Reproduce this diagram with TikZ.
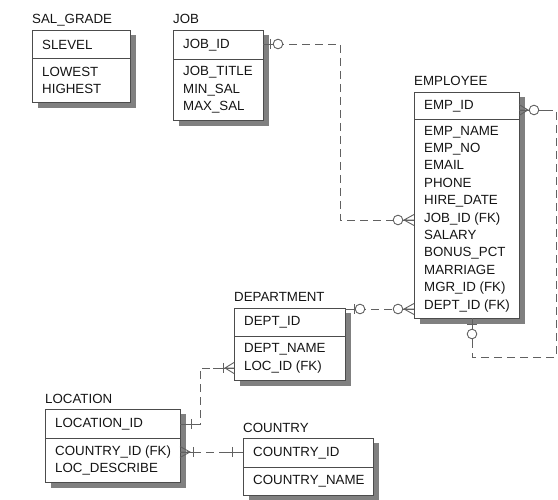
\documentclass[tikz,border=0pt]{standalone}
\usepackage{fontspec}
\setmainfont{Liberation Sans}
\definecolor{boxc}{gray}{0.3}
\definecolor{linec}{gray}{0.38}
\definecolor{txtc}{gray}{0.08}
\definecolor{shadc}{gray}{0.5}
\tikzset{
  tbox/.style={draw=boxc, fill=white, line width=0.9pt, inner sep=0pt, anchor=north west},
  ttext/.style={anchor=west, align=left, inner sep=0pt, font=\fontsize{13.3pt}{17.4pt}\selectfont, text=txtc},
  ttitle/.style={anchor=base west, inner sep=0pt, font=\fontsize{13.3pt}{16pt}\selectfont, text=txtc},
  shad/.style={fill=shadc},
  rel/.style={draw=linec, line width=0.9pt, dash pattern=on 8pt off 5pt},
  sol/.style={draw=linec, line width=0.9pt},
}
% name, title, L, T, R, D, B, head, body
\newcommand\ertab[9]{%
  \pgfmathsetmacro\erW{#5-#3}%
  \pgfmathsetmacro\erH{#6-#4}%
  \pgfmathsetmacro\erB{#7-#6}%
  \fill[shad] ({#3+6},{#4+5}) rectangle ({#5+6},{#7+6});
  \node[ttitle] (#1t) at (#3,{#4-6}) {#2};
  \node[tbox, minimum width=\erW pt, minimum height=\erH pt] (#1h) at (#3,#4) {};
  \node[tbox, minimum width=\erW pt, minimum height=\erB pt] (#1b) at (#3,#6) {};
  \node[ttext] (#1hx) at ({#3+10},{(#4+#6)/2+0.5}) {#8};
  \node[ttext] (#1bx) at ({#3+10},{(#6+#7)/2+0.5}) {#9};
}
% vertical bar on a horizontal line
\newcommand\erbarv[2]{\draw[sol] (#1,{#2-5}) -- (#1,{#2+5});}
% horizontal bar on a vertical line
\newcommand\erbarh[2]{\draw[sol] ({#1-5},#2) -- ({#1+5},#2);}
\newcommand\ercirc[2]{\draw[sol, fill=white] (#1,#2) circle [radius=4.8pt];}
% crow foot: apex x, edge x, y
\newcommand\ercrow[3]{\draw[sol] (#2,{#3-5.5}) -- (#1,#3) -- (#2,{#3+5.5}) (#1,#3) -- (#2,#3);}
\begin{document}
\begin{tikzpicture}[x=1pt, y=-1pt]
\useasboundingbox (0,0) rectangle (558,500);

\ertab{sal}{SAL\_GRADE}{32}{30}{130}{58}{102}{SLEVEL}{LOWEST\\HIGHEST}
\ertab{job}{JOB}{173}{30}{263}{59}{120}{JOB\_ID}{JOB\_TITLE\\MIN\_SAL\\MAX\_SAL}
\ertab{emp}{EMPLOYEE}{414}{92}{519}{119}{318}{EMP\_ID}{EMP\_NAME\\EMP\_NO\\EMAIL\\PHONE\\HIRE\_DATE\\JOB\_ID (FK)\\SALARY\\BONUS\_PCT\\MARRIAGE\\MGR\_ID (FK)\\DEPT\_ID (FK)}
\ertab{dep}{DEPARTMENT}{234}{308}{345}{336}{380}{DEPT\_ID}{DEPT\_NAME\\LOC\_ID (FK)}
\ertab{loc}{LOCATION}{45}{409}{180}{438}{482}{LOCATION\_ID}{COUNTRY\_ID (FK)\\LOC\_DESCRIBE}
\ertab{cty}{COUNTRY}{243}{438}{373}{467}{495}{COUNTRY\_ID}{COUNTRY\_NAME}

% attachment points
\coordinate (jobA) at (263,44);
\coordinate (empJob) at (414,220);
\coordinate (empS1) at (519,110);
\coordinate (empS2) at (472,318);
\coordinate (depA) at (345,309);
\coordinate (empDep) at (414,309);
\coordinate (locA) at (180,424);
\coordinate (depLoc) at (234,368);
\coordinate (locC) at (180,452);
\coordinate (ctyA) at (243,452);

% JOB -> EMPLOYEE
\draw[rel] (jobA) -- (340,44) -- (340,220) -- (empJob);
\draw[sol] (jobA) -- ++(20,0);
\draw[sol] (empJob) -- ++(-21,0);
\erbarv{270}{44}
\ercirc{278}{44}
\ercrow{404}{414}{220}
\ercirc{398}{220}

% EMPLOYEE self (MGR_ID)
\draw[rel] (empS1) -- (556,110) -- (556,357) -- (472,357) -- (empS2);
\draw[sol] (empS1) -- ++(26,0);
\draw[sol] (empS2) -- ++(0,24);
\ercrow{528}{519}{110}
\ercirc{534}{110}
\erbarh{472}{324}
\ercirc{472}{334}

% DEPARTMENT -> EMPLOYEE
\draw[rel] (depA) -- (empDep);
\draw[sol] (depA) -- ++(21,0);
\draw[sol] (empDep) -- ++(-21,0);
\erbarv{354}{309}
\ercirc{360}{309}
\ercrow{404}{414}{309}
\ercirc{398}{309}

% LOCATION -> DEPARTMENT
\draw[rel] (locA) -- (200,424) -- (200,368) -- (depLoc);
\draw[sol] (locA) -- (200,424);
\draw[sol] (depLoc) -- ++(-21,0);
\erbarv{191}{424}
\erbarv{223}{368}
\ercrow{225}{234}{368}

% COUNTRY -> LOCATION
\draw[rel] (locC) -- (ctyA);
\draw[sol] (locC) -- ++(18,0);
\draw[sol] (ctyA) -- ++(-21,0);
\ercrow{190}{180}{452}
\erbarv{193}{452}
\erbarv{232}{452}
\end{tikzpicture}
\end{document}
